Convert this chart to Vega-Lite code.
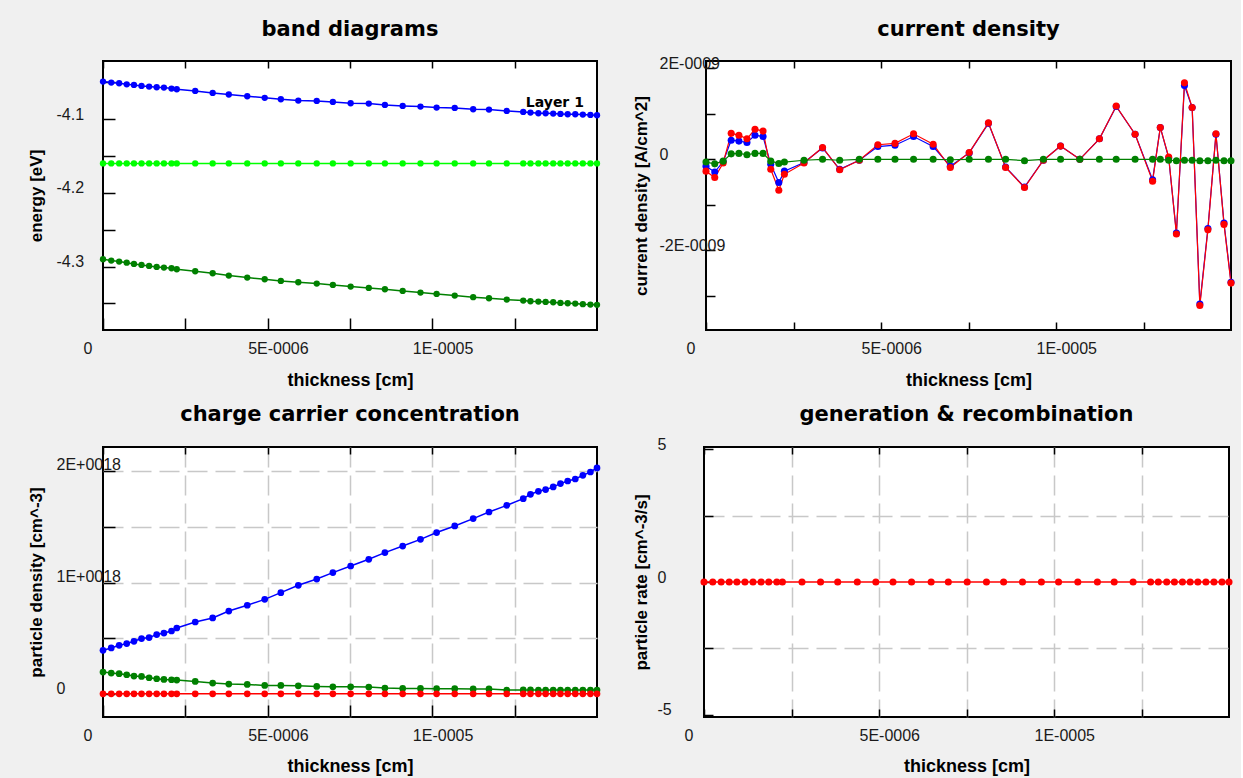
{
  "$schema": "https://vega.github.io/schema/vega-lite/v6.json",
  "background": "#f0f0f0",
  "padding": {"left": 25, "top": 18, "right": 5, "bottom": 5},
  "config": {
    "view": {"stroke": "#000000", "strokeWidth": 2, "fill": "#ffffff"},
    "axis": {"domain": false, "labelFont": "Liberation Sans", "labelFontSize": 16, "labelColor": "#1a1a1a", "titleFont": "Liberation Sans", "titleFontWeight": "bold", "titleColor": "#000000", "tickColor": "#000000", "tickWidth": 1.5, "labelFlush": false, "labelOverlap": false, "labelBound": false, "grid": false, "gridColor": "#c8c8c8", "gridDash": [20, 8], "gridWidth": 1.5},
    "title": {"font": "DejaVu Sans", "fontSize": 21, "fontWeight": "bold", "color": "#000000", "anchor": "middle", "frame": "group", "offset": 19}
  },
  "datasets": {
    "band": [
      {"thickness":0,"series":"Ec","value":-4.0489},{"thickness":2.5e-7,"series":"Ec","value":-4.0503},{"thickness":4.9e-7,"series":"Ec","value":-4.0512},{"thickness":7.2e-7,"series":"Ec","value":-4.0526},{"thickness":9.4e-7,"series":"Ec","value":-4.0535},{"thickness":1.17e-6,"series":"Ec","value":-4.0548},{"thickness":1.4e-6,"series":"Ec","value":-4.0557},{"thickness":1.63e-6,"series":"Ec","value":-4.0566},{"thickness":1.85e-6,"series":"Ec","value":-4.0571},{"thickness":2.08e-6,"series":"Ec","value":-4.0584},{"thickness":2.24e-6,"series":"Ec","value":-4.0593},
      {"thickness":2.8e-6,"series":"Ec","value":-4.0616},{"thickness":3.33e-6,"series":"Ec","value":-4.0643},{"thickness":3.82e-6,"series":"Ec","value":-4.0665},{"thickness":4.38e-6,"series":"Ec","value":-4.0688},{"thickness":4.91e-6,"series":"Ec","value":-4.071},{"thickness":5.4e-6,"series":"Ec","value":-4.0729},{"thickness":5.93e-6,"series":"Ec","value":-4.0747},{"thickness":6.49e-6,"series":"Ec","value":-4.0752},{"thickness":6.98e-6,"series":"Ec","value":-4.0765},{"thickness":7.52e-6,"series":"Ec","value":-4.0783},{"thickness":8.07e-6,"series":"Ec","value":-4.0788},{"thickness":8.56e-6,"series":"Ec","value":-4.0806},{"thickness":9.1e-6,"series":"Ec","value":-4.0819},{"thickness":9.64e-6,"series":"Ec","value":-4.0828},{"thickness":1.013e-5,"series":"Ec","value":-4.0842},{"thickness":1.068e-5,"series":"Ec","value":-4.0847},{"thickness":1.124e-5,"series":"Ec","value":-4.0865},{"thickness":1.172e-5,"series":"Ec","value":-4.0869},{"thickness":1.226e-5,"series":"Ec","value":-4.0887},
      {"thickness":1.276e-5,"series":"Ec","value":-4.0901},{"thickness":1.298e-5,"series":"Ec","value":-4.091},{"thickness":1.322e-5,"series":"Ec","value":-4.0919},{"thickness":1.344e-5,"series":"Ec","value":-4.0919},{"thickness":1.367e-5,"series":"Ec","value":-4.0924},{"thickness":1.389e-5,"series":"Ec","value":-4.0928},{"thickness":1.411e-5,"series":"Ec","value":-4.0933},{"thickness":1.434e-5,"series":"Ec","value":-4.0933},{"thickness":1.457e-5,"series":"Ec","value":-4.0937},{"thickness":1.48e-5,"series":"Ec","value":-4.0942},{"thickness":1.5e-5,"series":"Ec","value":-4.0946},
      {"thickness":0,"series":"EF","value":-4.16},{"thickness":2.5e-7,"series":"EF","value":-4.16},{"thickness":4.9e-7,"series":"EF","value":-4.16},{"thickness":7.2e-7,"series":"EF","value":-4.16},{"thickness":9.4e-7,"series":"EF","value":-4.16},{"thickness":1.17e-6,"series":"EF","value":-4.16},{"thickness":1.4e-6,"series":"EF","value":-4.16},{"thickness":1.63e-6,"series":"EF","value":-4.16},{"thickness":1.85e-6,"series":"EF","value":-4.16},{"thickness":2.08e-6,"series":"EF","value":-4.16},{"thickness":2.24e-6,"series":"EF","value":-4.16},
      {"thickness":2.8e-6,"series":"EF","value":-4.16},{"thickness":3.33e-6,"series":"EF","value":-4.16},{"thickness":3.82e-6,"series":"EF","value":-4.16},{"thickness":4.38e-6,"series":"EF","value":-4.16},{"thickness":4.91e-6,"series":"EF","value":-4.16},{"thickness":5.4e-6,"series":"EF","value":-4.16},{"thickness":5.93e-6,"series":"EF","value":-4.16},{"thickness":6.49e-6,"series":"EF","value":-4.16},{"thickness":6.98e-6,"series":"EF","value":-4.16},{"thickness":7.52e-6,"series":"EF","value":-4.16},{"thickness":8.07e-6,"series":"EF","value":-4.16},{"thickness":8.56e-6,"series":"EF","value":-4.16},{"thickness":9.1e-6,"series":"EF","value":-4.16},{"thickness":9.64e-6,"series":"EF","value":-4.16},{"thickness":1.013e-5,"series":"EF","value":-4.16},{"thickness":1.068e-5,"series":"EF","value":-4.16},{"thickness":1.124e-5,"series":"EF","value":-4.16},{"thickness":1.172e-5,"series":"EF","value":-4.16},{"thickness":1.226e-5,"series":"EF","value":-4.16},
      {"thickness":1.276e-5,"series":"EF","value":-4.16},{"thickness":1.298e-5,"series":"EF","value":-4.16},{"thickness":1.322e-5,"series":"EF","value":-4.16},{"thickness":1.344e-5,"series":"EF","value":-4.16},{"thickness":1.367e-5,"series":"EF","value":-4.16},{"thickness":1.389e-5,"series":"EF","value":-4.16},{"thickness":1.411e-5,"series":"EF","value":-4.16},{"thickness":1.434e-5,"series":"EF","value":-4.16},{"thickness":1.457e-5,"series":"EF","value":-4.16},{"thickness":1.48e-5,"series":"EF","value":-4.16},{"thickness":1.5e-5,"series":"EF","value":-4.16},
      {"thickness":0,"series":"Ev","value":-4.29},{"thickness":2.5e-7,"series":"Ev","value":-4.2918},{"thickness":4.9e-7,"series":"Ev","value":-4.2932},{"thickness":7.2e-7,"series":"Ev","value":-4.2946},{"thickness":9.4e-7,"series":"Ev","value":-4.2963},{"thickness":1.17e-6,"series":"Ev","value":-4.2977},{"thickness":1.4e-6,"series":"Ev","value":-4.299},{"thickness":1.63e-6,"series":"Ev","value":-4.3004},{"thickness":1.85e-6,"series":"Ev","value":-4.3013},{"thickness":2.08e-6,"series":"Ev","value":-4.3022},{"thickness":2.24e-6,"series":"Ev","value":-4.3036},
      {"thickness":2.8e-6,"series":"Ev","value":-4.3063},{"thickness":3.33e-6,"series":"Ev","value":-4.309},{"thickness":3.82e-6,"series":"Ev","value":-4.3122},{"thickness":4.38e-6,"series":"Ev","value":-4.3149},{"thickness":4.91e-6,"series":"Ev","value":-4.3171},{"thickness":5.4e-6,"series":"Ev","value":-4.3194},{"thickness":5.93e-6,"series":"Ev","value":-4.3212},{"thickness":6.49e-6,"series":"Ev","value":-4.323},{"thickness":6.98e-6,"series":"Ev","value":-4.3248},{"thickness":7.52e-6,"series":"Ev","value":-4.3271},{"thickness":8.07e-6,"series":"Ev","value":-4.3289},{"thickness":8.56e-6,"series":"Ev","value":-4.3307},{"thickness":9.1e-6,"series":"Ev","value":-4.333},{"thickness":9.64e-6,"series":"Ev","value":-4.3352},{"thickness":1.013e-5,"series":"Ev","value":-4.337},{"thickness":1.068e-5,"series":"Ev","value":-4.3393},{"thickness":1.124e-5,"series":"Ev","value":-4.3415},{"thickness":1.172e-5,"series":"Ev","value":-4.3429},{"thickness":1.226e-5,"series":"Ev","value":-4.3447},
      {"thickness":1.276e-5,"series":"Ev","value":-4.3461},{"thickness":1.298e-5,"series":"Ev","value":-4.347},{"thickness":1.322e-5,"series":"Ev","value":-4.3474},{"thickness":1.344e-5,"series":"Ev","value":-4.3479},{"thickness":1.367e-5,"series":"Ev","value":-4.3483},{"thickness":1.389e-5,"series":"Ev","value":-4.3492},{"thickness":1.411e-5,"series":"Ev","value":-4.3497},{"thickness":1.434e-5,"series":"Ev","value":-4.3501},{"thickness":1.457e-5,"series":"Ev","value":-4.351},{"thickness":1.48e-5,"series":"Ev","value":-4.3515},{"thickness":1.5e-5,"series":"Ev","value":-4.3519}
    ],
    "current": [
      {"thickness":0,"series":"Jn","value":-1.5e-10},{"thickness":2.5e-7,"series":"Jn","value":-2.8e-10},{"thickness":4.9e-7,"series":"Jn","value":-5e-11},{"thickness":7.2e-7,"series":"Jn","value":4.2e-10},{"thickness":9.4e-7,"series":"Jn","value":4.0e-10},{"thickness":1.17e-6,"series":"Jn","value":3.7e-10},{"thickness":1.4e-6,"series":"Jn","value":5.3e-10},{"thickness":1.63e-6,"series":"Jn","value":5.0e-10},{"thickness":1.85e-6,"series":"Jn","value":-1.1e-10},{"thickness":2.08e-6,"series":"Jn","value":-5.1e-10},{"thickness":2.24e-6,"series":"Jn","value":-2.6e-10},
      {"thickness":2.8e-6,"series":"Jn","value":-7e-11},{"thickness":3.33e-6,"series":"Jn","value":2.5e-10},{"thickness":3.82e-6,"series":"Jn","value":-2.2e-10},{"thickness":4.38e-6,"series":"Jn","value":-2e-11},{"thickness":4.91e-6,"series":"Jn","value":2.8e-10},{"thickness":5.4e-6,"series":"Jn","value":3.1e-10},{"thickness":5.93e-6,"series":"Jn","value":5.0e-10},{"thickness":6.49e-6,"series":"Jn","value":2.8e-10},{"thickness":6.98e-6,"series":"Jn","value":-1.5e-10},{"thickness":7.52e-6,"series":"Jn","value":1.4e-10},{"thickness":8.07e-6,"series":"Jn","value":7.9e-10},{"thickness":8.56e-6,"series":"Jn","value":-1.7e-10},{"thickness":9.1e-6,"series":"Jn","value":-6.1e-10},{"thickness":9.64e-6,"series":"Jn","value":-2e-11},{"thickness":1.013e-5,"series":"Jn","value":2.9e-10},{"thickness":1.068e-5,"series":"Jn","value":0},{"thickness":1.124e-5,"series":"Jn","value":4.5e-10},{"thickness":1.172e-5,"series":"Jn","value":1.16e-9},{"thickness":1.226e-5,"series":"Jn","value":5.5e-10},
      {"thickness":1.276e-5,"series":"Jn","value":-4.5e-10},{"thickness":1.298e-5,"series":"Jn","value":7.0e-10},{"thickness":1.322e-5,"series":"Jn","value":3e-11},{"thickness":1.344e-5,"series":"Jn","value":-1.62e-9},{"thickness":1.367e-5,"series":"Jn","value":1.62e-9},{"thickness":1.389e-5,"series":"Jn","value":1.14e-9},{"thickness":1.411e-5,"series":"Jn","value":-3.18e-9},{"thickness":1.434e-5,"series":"Jn","value":-1.52e-9},{"thickness":1.457e-5,"series":"Jn","value":5.5e-10},{"thickness":1.48e-5,"series":"Jn","value":-1.4e-9},{"thickness":1.5e-5,"series":"Jn","value":-2.7e-9},
      {"thickness":0,"series":"Jtot","value":-2.6e-10},{"thickness":2.5e-7,"series":"Jtot","value":-4.0e-10},{"thickness":4.9e-7,"series":"Jtot","value":-8e-11},{"thickness":7.2e-7,"series":"Jtot","value":5.7e-10},{"thickness":9.4e-7,"series":"Jtot","value":5.3e-10},{"thickness":1.17e-6,"series":"Jtot","value":4.5e-10},{"thickness":1.4e-6,"series":"Jtot","value":6.6e-10},{"thickness":1.63e-6,"series":"Jtot","value":6.2e-10},{"thickness":1.85e-6,"series":"Jtot","value":-2.2e-10},{"thickness":2.08e-6,"series":"Jtot","value":-6.8e-10},{"thickness":2.24e-6,"series":"Jtot","value":-3.3e-10},
      {"thickness":2.8e-6,"series":"Jtot","value":-8e-11},{"thickness":3.33e-6,"series":"Jtot","value":2.6e-10},{"thickness":3.82e-6,"series":"Jtot","value":-2.3e-10},{"thickness":4.38e-6,"series":"Jtot","value":-2e-11},{"thickness":4.91e-6,"series":"Jtot","value":3.2e-10},{"thickness":5.4e-6,"series":"Jtot","value":3.5e-10},{"thickness":5.93e-6,"series":"Jtot","value":5.6e-10},{"thickness":6.49e-6,"series":"Jtot","value":3.3e-10},{"thickness":6.98e-6,"series":"Jtot","value":-1.8e-10},{"thickness":7.52e-6,"series":"Jtot","value":1.5e-10},{"thickness":8.07e-6,"series":"Jtot","value":8.0e-10},{"thickness":8.56e-6,"series":"Jtot","value":-1.8e-10},{"thickness":9.1e-6,"series":"Jtot","value":-6.2e-10},{"thickness":9.64e-6,"series":"Jtot","value":-2e-11},{"thickness":1.013e-5,"series":"Jtot","value":2.9e-10},{"thickness":1.068e-5,"series":"Jtot","value":0},{"thickness":1.124e-5,"series":"Jtot","value":4.5e-10},{"thickness":1.172e-5,"series":"Jtot","value":1.17e-9},{"thickness":1.226e-5,"series":"Jtot","value":5.5e-10},
      {"thickness":1.276e-5,"series":"Jtot","value":-4.8e-10},{"thickness":1.298e-5,"series":"Jtot","value":7.0e-10},{"thickness":1.322e-5,"series":"Jtot","value":5e-11},{"thickness":1.344e-5,"series":"Jtot","value":-1.64e-9},{"thickness":1.367e-5,"series":"Jtot","value":1.68e-9},{"thickness":1.389e-5,"series":"Jtot","value":1.14e-9},{"thickness":1.411e-5,"series":"Jtot","value":-3.21e-9},{"thickness":1.434e-5,"series":"Jtot","value":-1.55e-9},{"thickness":1.457e-5,"series":"Jtot","value":5.6e-10},{"thickness":1.48e-5,"series":"Jtot","value":-1.43e-9},{"thickness":1.5e-5,"series":"Jtot","value":-2.72e-9},
      {"thickness":0,"series":"Jp","value":-6e-11},{"thickness":2.5e-7,"series":"Jp","value":-1e-10},{"thickness":4.9e-7,"series":"Jp","value":-4e-11},{"thickness":7.2e-7,"series":"Jp","value":1.2e-10},{"thickness":9.4e-7,"series":"Jp","value":1.3e-10},{"thickness":1.17e-6,"series":"Jp","value":1.0e-10},{"thickness":1.4e-6,"series":"Jp","value":1.3e-10},{"thickness":1.63e-6,"series":"Jp","value":1.3e-10},{"thickness":1.85e-6,"series":"Jp","value":-4e-11},{"thickness":2.08e-6,"series":"Jp","value":-9e-11},{"thickness":2.24e-6,"series":"Jp","value":-6e-11},
      {"thickness":2.8e-6,"series":"Jp","value":-2e-11},{"thickness":3.33e-6,"series":"Jp","value":0},{"thickness":3.82e-6,"series":"Jp","value":-2e-11},{"thickness":4.38e-6,"series":"Jp","value":0},{"thickness":4.91e-6,"series":"Jp","value":0},{"thickness":5.4e-6,"series":"Jp","value":0},{"thickness":5.93e-6,"series":"Jp","value":0},{"thickness":6.49e-6,"series":"Jp","value":0},{"thickness":6.98e-6,"series":"Jp","value":-1e-11},{"thickness":7.52e-6,"series":"Jp","value":0},{"thickness":8.07e-6,"series":"Jp","value":0},{"thickness":8.56e-6,"series":"Jp","value":0},{"thickness":9.1e-6,"series":"Jp","value":-3e-11},{"thickness":9.64e-6,"series":"Jp","value":0},{"thickness":1.013e-5,"series":"Jp","value":0},{"thickness":1.068e-5,"series":"Jp","value":0},{"thickness":1.124e-5,"series":"Jp","value":0},{"thickness":1.172e-5,"series":"Jp","value":0},{"thickness":1.226e-5,"series":"Jp","value":0},
      {"thickness":1.276e-5,"series":"Jp","value":0},{"thickness":1.298e-5,"series":"Jp","value":0},{"thickness":1.322e-5,"series":"Jp","value":-2e-11},{"thickness":1.344e-5,"series":"Jp","value":-3e-11},{"thickness":1.367e-5,"series":"Jp","value":-2e-11},{"thickness":1.389e-5,"series":"Jp","value":-2e-11},{"thickness":1.411e-5,"series":"Jp","value":-3e-11},{"thickness":1.434e-5,"series":"Jp","value":-3e-11},{"thickness":1.457e-5,"series":"Jp","value":-2e-11},{"thickness":1.48e-5,"series":"Jp","value":-3e-11},{"thickness":1.5e-5,"series":"Jp","value":-3e-11}
    ],
    "charge": [
      {"thickness":0,"series":"n","value":3.92e17},{"thickness":2.5e-7,"series":"n","value":4.13e17},{"thickness":4.9e-7,"series":"n","value":4.37e17},{"thickness":7.2e-7,"series":"n","value":4.52e17},{"thickness":9.4e-7,"series":"n","value":4.73e17},{"thickness":1.17e-6,"series":"n","value":4.97e17},{"thickness":1.4e-6,"series":"n","value":5.06e17},{"thickness":1.63e-6,"series":"n","value":5.33e17},{"thickness":1.85e-6,"series":"n","value":5.47e17},{"thickness":2.08e-6,"series":"n","value":5.65e17},{"thickness":2.24e-6,"series":"n","value":5.92e17},
      {"thickness":2.8e-6,"series":"n","value":6.46e17},{"thickness":3.33e-6,"series":"n","value":6.82e17},{"thickness":3.82e-6,"series":"n","value":7.44e17},{"thickness":4.38e-6,"series":"n","value":7.96e17},{"thickness":4.91e-6,"series":"n","value":8.49e17},{"thickness":5.4e-6,"series":"n","value":9.09e17},{"thickness":5.93e-6,"series":"n","value":9.75e17},{"thickness":6.49e-6,"series":"n","value":1.031e18},{"thickness":6.98e-6,"series":"n","value":1.089e18},{"thickness":7.52e-6,"series":"n","value":1.148e18},{"thickness":8.07e-6,"series":"n","value":1.208e18},{"thickness":8.56e-6,"series":"n","value":1.268e18},{"thickness":9.1e-6,"series":"n","value":1.327e18},{"thickness":9.64e-6,"series":"n","value":1.387e18},{"thickness":1.013e-5,"series":"n","value":1.448e18},{"thickness":1.068e-5,"series":"n","value":1.507e18},{"thickness":1.124e-5,"series":"n","value":1.573e18},{"thickness":1.172e-5,"series":"n","value":1.632e18},{"thickness":1.226e-5,"series":"n","value":1.692e18},
      {"thickness":1.276e-5,"series":"n","value":1.752e18},{"thickness":1.298e-5,"series":"n","value":1.791e18},{"thickness":1.322e-5,"series":"n","value":1.818e18},{"thickness":1.344e-5,"series":"n","value":1.833e18},{"thickness":1.367e-5,"series":"n","value":1.857e18},{"thickness":1.389e-5,"series":"n","value":1.887e18},{"thickness":1.411e-5,"series":"n","value":1.91e18},{"thickness":1.434e-5,"series":"n","value":1.928e18},{"thickness":1.457e-5,"series":"n","value":1.961e18},{"thickness":1.48e-5,"series":"n","value":1.991e18},{"thickness":1.5e-5,"series":"n","value":2.027e18},
      {"thickness":0,"series":"p","value":1.97e17},{"thickness":2.5e-7,"series":"p","value":1.88e17},{"thickness":4.9e-7,"series":"p","value":1.82e17},{"thickness":7.2e-7,"series":"p","value":1.73e17},{"thickness":9.4e-7,"series":"p","value":1.61e17},{"thickness":1.17e-6,"series":"p","value":1.58e17},{"thickness":1.4e-6,"series":"p","value":1.46e17},{"thickness":1.63e-6,"series":"p","value":1.37e17},{"thickness":1.85e-6,"series":"p","value":1.31e17},{"thickness":2.08e-6,"series":"p","value":1.28e17},{"thickness":2.24e-6,"series":"p","value":1.25e17},
      {"thickness":2.8e-6,"series":"p","value":1.13e17},{"thickness":3.33e-6,"series":"p","value":9.8e16},{"thickness":3.82e-6,"series":"p","value":8.9e16},{"thickness":4.38e-6,"series":"p","value":8.6e16},{"thickness":4.91e-6,"series":"p","value":7.7e16},{"thickness":5.4e-6,"series":"p","value":7.7e16},{"thickness":5.93e-6,"series":"p","value":7.4e16},{"thickness":6.49e-6,"series":"p","value":6.8e16},{"thickness":6.98e-6,"series":"p","value":6.5e16},{"thickness":7.52e-6,"series":"p","value":6.5e16},{"thickness":8.07e-6,"series":"p","value":6.2e16},{"thickness":8.56e-6,"series":"p","value":5.3e16},{"thickness":9.1e-6,"series":"p","value":5.0e16},{"thickness":9.64e-6,"series":"p","value":5.0e16},{"thickness":1.013e-5,"series":"p","value":4.8e16},{"thickness":1.068e-5,"series":"p","value":4.8e16},{"thickness":1.124e-5,"series":"p","value":4.6e16},{"thickness":1.172e-5,"series":"p","value":4.6e16},{"thickness":1.226e-5,"series":"p","value":3.5e16},
      {"thickness":1.276e-5,"series":"p","value":3.7e16},{"thickness":1.298e-5,"series":"p","value":3.7e16},{"thickness":1.322e-5,"series":"p","value":3.6e16},{"thickness":1.344e-5,"series":"p","value":3.6e16},{"thickness":1.367e-5,"series":"p","value":3.6e16},{"thickness":1.389e-5,"series":"p","value":3.6e16},{"thickness":1.411e-5,"series":"p","value":3.6e16},{"thickness":1.434e-5,"series":"p","value":3.6e16},{"thickness":1.457e-5,"series":"p","value":3.6e16},{"thickness":1.48e-5,"series":"p","value":3.6e16},{"thickness":1.5e-5,"series":"p","value":3.6e16},
      {"thickness":0,"series":"nt","value":2e15},{"thickness":2.5e-7,"series":"nt","value":2e15},{"thickness":4.9e-7,"series":"nt","value":2e15},{"thickness":7.2e-7,"series":"nt","value":2e15},{"thickness":9.4e-7,"series":"nt","value":2e15},{"thickness":1.17e-6,"series":"nt","value":2e15},{"thickness":1.4e-6,"series":"nt","value":2e15},{"thickness":1.63e-6,"series":"nt","value":2e15},{"thickness":1.85e-6,"series":"nt","value":2e15},{"thickness":2.08e-6,"series":"nt","value":2e15},{"thickness":2.24e-6,"series":"nt","value":2e15},
      {"thickness":2.8e-6,"series":"nt","value":2e15},{"thickness":3.33e-6,"series":"nt","value":2e15},{"thickness":3.82e-6,"series":"nt","value":2e15},{"thickness":4.38e-6,"series":"nt","value":2e15},{"thickness":4.91e-6,"series":"nt","value":2e15},{"thickness":5.4e-6,"series":"nt","value":2e15},{"thickness":5.93e-6,"series":"nt","value":2e15},{"thickness":6.49e-6,"series":"nt","value":2e15},{"thickness":6.98e-6,"series":"nt","value":2e15},{"thickness":7.52e-6,"series":"nt","value":2e15},{"thickness":8.07e-6,"series":"nt","value":2e15},{"thickness":8.56e-6,"series":"nt","value":2e15},{"thickness":9.1e-6,"series":"nt","value":2e15},{"thickness":9.64e-6,"series":"nt","value":2e15},{"thickness":1.013e-5,"series":"nt","value":2e15},{"thickness":1.068e-5,"series":"nt","value":2e15},{"thickness":1.124e-5,"series":"nt","value":2e15},{"thickness":1.172e-5,"series":"nt","value":2e15},{"thickness":1.226e-5,"series":"nt","value":2e15},
      {"thickness":1.276e-5,"series":"nt","value":2e15},{"thickness":1.298e-5,"series":"nt","value":2e15},{"thickness":1.322e-5,"series":"nt","value":2e15},{"thickness":1.344e-5,"series":"nt","value":2e15},{"thickness":1.367e-5,"series":"nt","value":2e15},{"thickness":1.389e-5,"series":"nt","value":2e15},{"thickness":1.411e-5,"series":"nt","value":2e15},{"thickness":1.434e-5,"series":"nt","value":2e15},{"thickness":1.457e-5,"series":"nt","value":2e15},{"thickness":1.48e-5,"series":"nt","value":2e15},{"thickness":1.5e-5,"series":"nt","value":2e15}
    ],
    "gen": [
      {"thickness":0,"series":"G-R","value":0},{"thickness":2.5e-7,"series":"G-R","value":0},{"thickness":4.9e-7,"series":"G-R","value":0},{"thickness":7.2e-7,"series":"G-R","value":0},{"thickness":9.4e-7,"series":"G-R","value":0},{"thickness":1.17e-6,"series":"G-R","value":0},{"thickness":1.4e-6,"series":"G-R","value":0},{"thickness":1.63e-6,"series":"G-R","value":0},{"thickness":1.85e-6,"series":"G-R","value":0},{"thickness":2.08e-6,"series":"G-R","value":0},{"thickness":2.24e-6,"series":"G-R","value":0},
      {"thickness":2.8e-6,"series":"G-R","value":0},{"thickness":3.33e-6,"series":"G-R","value":0},{"thickness":3.82e-6,"series":"G-R","value":0},{"thickness":4.38e-6,"series":"G-R","value":0},{"thickness":4.91e-6,"series":"G-R","value":0},{"thickness":5.4e-6,"series":"G-R","value":0},{"thickness":5.93e-6,"series":"G-R","value":0},{"thickness":6.49e-6,"series":"G-R","value":0},{"thickness":6.98e-6,"series":"G-R","value":0},{"thickness":7.52e-6,"series":"G-R","value":0},{"thickness":8.07e-6,"series":"G-R","value":0},{"thickness":8.56e-6,"series":"G-R","value":0},{"thickness":9.1e-6,"series":"G-R","value":0},{"thickness":9.64e-6,"series":"G-R","value":0},{"thickness":1.013e-5,"series":"G-R","value":0},{"thickness":1.068e-5,"series":"G-R","value":0},{"thickness":1.124e-5,"series":"G-R","value":0},{"thickness":1.172e-5,"series":"G-R","value":0},{"thickness":1.226e-5,"series":"G-R","value":0},
      {"thickness":1.276e-5,"series":"G-R","value":0},{"thickness":1.298e-5,"series":"G-R","value":0},{"thickness":1.322e-5,"series":"G-R","value":0},{"thickness":1.344e-5,"series":"G-R","value":0},{"thickness":1.367e-5,"series":"G-R","value":0},{"thickness":1.389e-5,"series":"G-R","value":0},{"thickness":1.411e-5,"series":"G-R","value":0},{"thickness":1.434e-5,"series":"G-R","value":0},{"thickness":1.457e-5,"series":"G-R","value":0},{"thickness":1.48e-5,"series":"G-R","value":0},{"thickness":1.5e-5,"series":"G-R","value":0}
    ]
  },
  "spacing": 13,
  "resolve": {"scale": {"color": "independent"}},
  "vconcat": [
    {
      "spacing": 28,
      "resolve": {"scale": {"color": "independent"}},
      "hconcat": [
        {
          "width": 494, "height": 269,
          "title": {"text": "band diagrams", "offset": 20},
          "data": {"name": "band"},
          "layer": [
            {
              "mark": {"type": "line", "strokeWidth": 1.5, "point": {"filled": true, "size": 40, "opacity": 1}},
              "encoding": {
                "x": {"field": "thickness", "type": "quantitative", "scale": {"domain": [0, 0.000015], "nice": false, "zero": false},
                  "axis": {"orient": "bottom", "values": [0, 0.0000025, 0.000005, 0.0000075, 0.00001, 0.0000125], "labelExpr": "datum.value == 0 ? '0' : abs(datum.value - 0.000005) < 1e-9 ? '5E-0006' : abs(datum.value - 0.00001) < 1e-9 ? '1E-0005' : ''", "title": "thickness [cm]", "tickSize": -12, "labelAlign": "left", "labelOffset": -20, "labelBaseline": "middle", "labelPadding": 30, "titleX": 247, "titleY": 50, "titleAngle": 0, "titleBaseline": "middle", "titleAlign": "center", "titleFontSize": 18}},
                "y": {"field": "value", "type": "quantitative", "scale": {"domain": [-4.386, -4.021], "nice": false, "zero": false},
                  "axis": {"values": [-4.35, -4.3, -4.25, -4.2, -4.15, -4.1, -4.05], "labelExpr": "abs(datum.value + 4.1) < 0.001 ? '-4.1' : abs(datum.value + 4.2) < 0.001 ? '-4.2' : abs(datum.value + 4.3) < 0.001 ? '-4.3' : ''", "title": "energy [eV]", "tickSize": -12, "labelAlign": "left", "labelBaseline": "middle", "labelOffset": -5, "labelPadding": 59, "titleX": -67, "titleY": 134.5, "titleAngle": -90, "titleAlign": "center", "titleBaseline": "middle", "titleFontSize": 17}},
                "color": {"field": "series", "type": "nominal", "scale": {"domain": ["Ec", "EF", "Ev"], "range": ["#0000ff", "#00ff00", "#008000"]}, "legend": null}
              }
            },
            {
              "mark": {"type": "point", "opacity": 0},
              "encoding": {"x": {"field": "thickness", "type": "quantitative", "axis": {"orient": "top", "values": [0, 0.0000025, 0.000005, 0.0000075, 0.00001, 0.0000125], "labels": false, "title": null, "tickSize": -7}}}
            },
            {
              "data": {"values": [{"thickness": 0.00001372, "value": -4.0775, "label": "Layer 1"}]},
              "mark": {"type": "text", "font": "DejaVu Sans", "fontWeight": "bold", "fontSize": 14, "color": "#000000"},
              "encoding": {"x": {"field": "thickness", "type": "quantitative", "axis": null}, "y": {"field": "value", "type": "quantitative"}, "text": {"field": "label"}}
            }
          ],
          "resolve": {"axis": {"x": "independent"}}
        },
        {
          "width": 525, "height": 269,
          "title": {"text": "current density", "offset": 15},
          "data": {"name": "current"},
          "layer": [
            {
              "mark": {"type": "line", "strokeWidth": 1.2, "point": {"filled": true, "size": 50, "opacity": 1}},
              "encoding": {
                "x": {"field": "thickness", "type": "quantitative", "scale": {"domain": [0, 0.000015], "nice": false, "zero": false},
                  "axis": {"orient": "bottom", "values": [0, 0.0000025, 0.000005, 0.0000075, 0.00001, 0.0000125], "labelExpr": "datum.value == 0 ? '0' : abs(datum.value - 0.000005) < 1e-9 ? '5E-0006' : abs(datum.value - 0.00001) < 1e-9 ? '1E-0005' : ''", "title": "thickness [cm]", "tickSize": -8, "labelAlign": "left", "labelOffset": -20, "labelBaseline": "middle", "labelPadding": 26, "titleX": 262.5, "titleY": 50, "titleAngle": 0, "titleBaseline": "middle", "titleAlign": "center", "titleFontSize": 18}},
                "y": {"field": "value", "type": "quantitative", "scale": {"domain": [-3.75e-9, 2.16e-9], "nice": false, "zero": false},
                  "axis": {"values": [-3e-9, -2e-9, -1e-9, 0, 1e-9, 2e-9], "labelExpr": "abs(datum.value - 2e-9) < 1e-11 ? '2E-0009' : abs(datum.value) < 1e-11 ? '0' : abs(datum.value + 2e-9) < 1e-11 ? '-2E-0009' : ''", "title": "current density [A/cm^2]", "tickSize": -9, "labelAlign": "left", "labelBaseline": "middle", "labelOffset": -5, "labelPadding": 56, "titleX": -65, "titleY": 134.5, "titleAngle": -90, "titleAlign": "center", "titleBaseline": "middle", "titleFontSize": 17}},
                "color": {"field": "series", "type": "nominal", "scale": {"domain": ["Jn", "Jtot", "Jp"], "range": ["#0000ff", "#ff0000", "#008000"]}, "legend": null}
              }
            },
            {
              "mark": {"type": "point", "opacity": 0},
              "encoding": {"x": {"field": "thickness", "type": "quantitative", "axis": {"orient": "top", "values": [0, 0.0000025, 0.000005, 0.0000075, 0.00001, 0.0000125], "labels": false, "title": null, "tickSize": -7}}}
            }
          ],
          "resolve": {"axis": {"x": "independent"}}
        }
      ]
    },
    {
      "spacing": 28,
      "resolve": {"scale": {"color": "independent"}},
      "hconcat": [
        {
          "width": 494, "height": 270,
          "title": {"text": "charge carrier concentration", "offset": 21},
          "data": {"name": "charge"},
          "layer": [
            {
              "mark": {"type": "line", "strokeWidth": 1.5, "point": {"filled": true, "size": 45, "opacity": 1}},
              "encoding": {
                "x": {"field": "thickness", "type": "quantitative", "scale": {"domain": [0, 0.000015], "nice": false, "zero": false},
                  "axis": {"orient": "bottom", "values": [0, 0.0000025, 0.000005, 0.0000075, 0.00001, 0.0000125], "labelExpr": "datum.value == 0 ? '0' : abs(datum.value - 0.000005) < 1e-9 ? '5E-0006' : abs(datum.value - 0.00001) < 1e-9 ? '1E-0005' : ''", "title": "thickness [cm]", "tickSize": -12, "labelAlign": "left", "labelOffset": -20, "labelBaseline": "middle", "labelPadding": 30, "titleX": 247, "titleY": 49, "titleAngle": 0, "titleBaseline": "middle", "titleAlign": "center", "titleFontSize": 18, "grid": true, "gridOpacity": {"condition": {"test": "datum.value == 0", "value": 0}, "value": 1}}},
                "y": {"field": "value", "type": "quantitative", "scale": {"domain": [-2.06e17, 2.215e18], "nice": false, "zero": false},
                  "axis": {"values": [0, 5e17, 1e18, 1.5e18, 2e18], "labelExpr": "abs(datum.value) < 1e15 ? '0' : abs(datum.value - 1e18) < 1e15 ? '1E+0018' : abs(datum.value - 2e18) < 1e15 ? '2E+0018' : ''", "title": "particle density [cm^-3]", "tickSize": -12, "labelAlign": "left", "labelBaseline": "middle", "labelOffset": -6, "labelPadding": 59, "titleX": -67, "titleY": 135, "titleAngle": -90, "titleAlign": "center", "titleBaseline": "middle", "titleFontSize": 17, "grid": true, "gridOpacity": {"condition": {"test": "datum.value == 0", "value": 0}, "value": 1}}},
                "color": {"field": "series", "type": "nominal", "scale": {"domain": ["n", "p", "nt"], "range": ["#0000ff", "#008000", "#ff0000"]}, "legend": null}
              }
            },
            {
              "mark": {"type": "point", "opacity": 0},
              "encoding": {"x": {"field": "thickness", "type": "quantitative", "axis": {"orient": "top", "values": [0, 0.0000025, 0.000005, 0.0000075, 0.00001, 0.0000125], "labels": false, "title": null, "tickSize": -7}}}
            }
          ],
          "resolve": {"axis": {"x": "independent"}}
        },
        {
          "width": 525, "height": 270,
          "title": {"text": "generation & recombination", "offset": 11},
          "data": {"name": "gen"},
          "layer": [
            {
              "mark": {"type": "line", "strokeWidth": 1.5, "point": {"filled": true, "size": 50, "opacity": 1}},
              "encoding": {
                "x": {"field": "thickness", "type": "quantitative", "scale": {"domain": [0, 0.000015], "nice": false, "zero": false},
                  "axis": {"orient": "bottom", "values": [0, 0.0000025, 0.000005, 0.0000075, 0.00001, 0.0000125], "labelExpr": "datum.value == 0 ? '0' : abs(datum.value - 0.000005) < 1e-9 ? '5E-0006' : abs(datum.value - 0.00001) < 1e-9 ? '1E-0005' : ''", "title": "thickness [cm]", "tickSize": -8, "labelAlign": "left", "labelOffset": -20, "labelBaseline": "middle", "labelPadding": 26, "titleX": 262.5, "titleY": 49, "titleAngle": 0, "titleBaseline": "middle", "titleAlign": "center", "titleFontSize": 18, "grid": true, "gridOpacity": {"condition": {"test": "datum.value == 0", "value": 0}, "value": 1}}},
                "y": {"field": "value", "type": "quantitative", "scale": {"domain": [-5.09, 5.09], "nice": false, "zero": false},
                  "axis": {"values": [-5, -2.5, 0, 2.5, 5], "labelExpr": "datum.value == 5 ? '5' : datum.value == 0 ? '0' : datum.value == -5 ? '-5' : ''", "title": "particle rate [cm^-3/s]", "tickSize": -9, "labelAlign": "left", "labelBaseline": "middle", "labelOffset": -5, "labelPadding": 56, "titleX": -63, "titleY": 135, "titleAngle": -90, "titleAlign": "center", "titleBaseline": "middle", "titleFontSize": 17, "grid": true, "gridOpacity": {"condition": {"test": "abs(datum.value) == 5 || datum.value == 0", "value": 0}, "value": 1}}},
                "color": {"field": "series", "type": "nominal", "scale": {"domain": ["G-R"], "range": ["#ff0000"]}, "legend": null}
              }
            },
            {
              "mark": {"type": "point", "opacity": 0},
              "encoding": {"x": {"field": "thickness", "type": "quantitative", "axis": {"orient": "top", "values": [0, 0.0000025, 0.000005, 0.0000075, 0.00001, 0.0000125], "labels": false, "title": null, "tickSize": -7}}}
            }
          ],
          "resolve": {"axis": {"x": "independent"}}
        }
      ]
    }
  ]
}
